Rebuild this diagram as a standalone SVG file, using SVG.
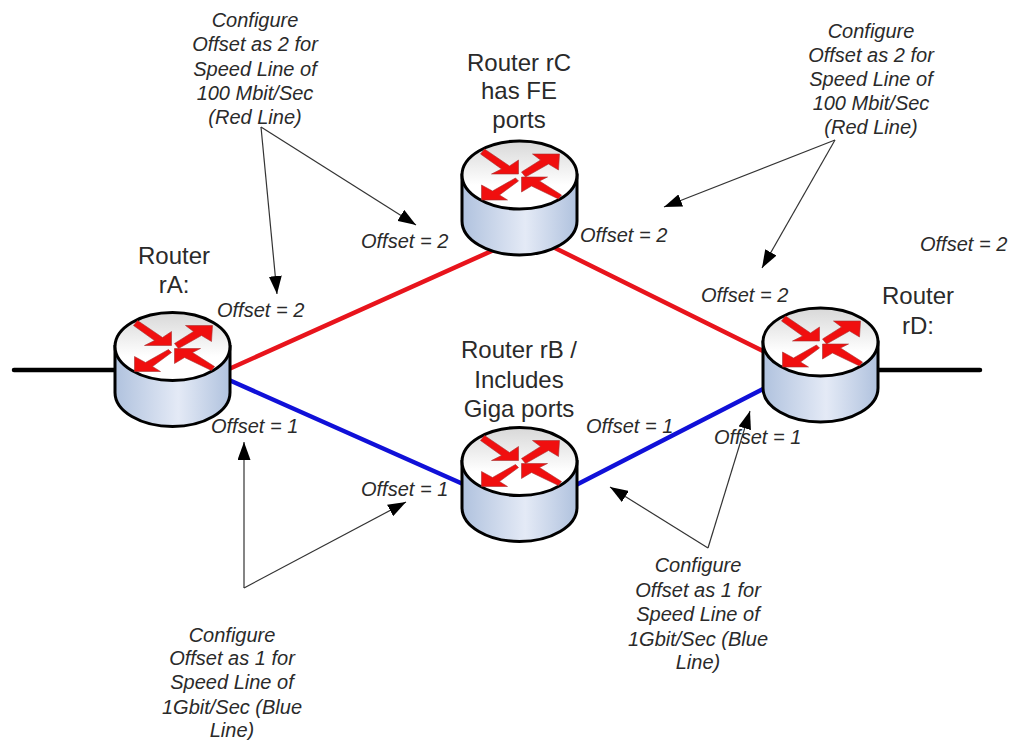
<svg xmlns="http://www.w3.org/2000/svg" width="1010" height="740" viewBox="0 0 1010 740">
<style>
text{font-family:"Liberation Sans",Arial,sans-serif;fill:#2a2a2a}
.i{font-style:italic;font-size:20px}
.c{text-anchor:middle}
.r{font-size:24px;text-anchor:middle}
.bk{stroke:#000;stroke-width:4.500;fill:none;stroke-linecap:round}
.red{stroke:#e8141c;stroke-width:4.500;fill:none}
.blu{stroke:#1010d8;stroke-width:4.500;fill:none}
.ar{stroke:#333;stroke-width:1.200;fill:none;marker-end:url(#h)}
.a{fill:#f00f0f;stroke:#a83030;stroke-width:.6}
</style>
<defs>
<marker id="h" viewBox="0 0 18 13" refX="18" refY="6.500" markerWidth="18" markerHeight="13" markerUnits="userSpaceOnUse" orient="auto"><path d="M0 0L18 6.500L0 13Z" fill="#000"/></marker>
<linearGradient id="s" x1="0" x2="1" y1="0" y2="0"><stop offset="0" stop-color="#b0c2de"/><stop offset=".55" stop-color="#e4eaf6"/><stop offset="1" stop-color="#b0c2de"/></linearGradient>
<linearGradient id="t" x1="0" x2="0" y1="0" y2="1"><stop offset="0" stop-color="#d8d8d8"/><stop offset=".65" stop-color="#ffffff"/><stop offset="1" stop-color="#ffffff"/></linearGradient>
<symbol id="router" overflow="visible">
<path d="M-57.500 0V46A57.500 34 0 0 0 57.500 46V0Z" fill="url(#s)" stroke="#000" stroke-width="3"/>
<ellipse cx="0" cy="0" rx="57.500" ry="34" fill="url(#t)" stroke="#000" stroke-width="3"/>
<path class="a" d="M-39-21L-35-26L-10-9L-1-15V-1H-28L-18-6Z"/>
<path class="a" d="M2-3L21-15L13-21H40L39-5L29-11L6 2Z"/>
<path class="a" d="M-4 3L-27 16L-38 10V25H-12L-20 20L-1 6Z"/>
<path class="a" d="M42 20L20 6L28 2H2V17L12 11L39 24Z"/>
</symbol>
</defs>
<g id="connectors">
<path class="bk" d="M14 370H116M878 370H980"/>
<path class="red" d="M229 369L496 249M555 248L765 352"/>
<path class="blu" d="M229 380L463 484M576 485L765 388"/>
<path class="ar" d="M261 127L277 294"/>
<path class="ar" d="M261 127L416 225"/>
<path class="ar" d="M835 140L664 207"/>
<path class="ar" d="M835 140L762 268"/>
<path class="ar" d="M244 588L244 442"/>
<path class="ar" d="M244 588L406 502"/>
<path class="ar" d="M708 548L610 487"/>
<path class="ar" d="M708 548L750 411"/>
</g>
<g id="rA"><use href="#router" x="172.500" y="346.500"/><text class="r" x="174" y="264">Router</text><text class="r" x="174" y="293">rA:</text></g>
<g id="rC"><use href="#router" x="519.500" y="175"/><text class="r" x="519" y="71">Router rC</text><text class="r" x="519" y="99">has FE</text><text class="r" x="519" y="128">ports</text></g>
<g id="rB"><use href="#router" x="519.500" y="461.500"/><text class="r" x="519" y="358">Router rB /</text><text class="r" x="519" y="388">Includes</text><text class="r" x="519" y="417">Giga ports</text></g>
<g id="rD"><use href="#router" x="820.500" y="342"/><text class="r" x="918" y="304">Router</text><text class="r" x="918" y="334">rD:</text></g>
<g id="offsets">
<text class="i" x="217" y="317">Offset = 2</text>
<text class="i" x="361" y="248">Offset = 2</text>
<text class="i" x="580" y="242">Offset = 2</text>
<text class="i" x="701" y="302">Offset = 2</text>
<text class="i" x="920" y="251">Offset = 2</text>
<text class="i" x="211" y="433">Offset = 1</text>
<text class="i" x="361" y="496">Offset = 1</text>
<text class="i" x="586" y="433">Offset = 1</text>
<text class="i" x="714" y="444">Offset = 1</text>
</g>
<g id="notes">
<text class="i c" x="255" y="27">Configure</text><text class="i c" x="255" y="51">Offset as 2 for</text><text class="i c" x="255" y="76">Speed Line of</text><text class="i c" x="255" y="100">100 Mbit/Sec</text><text class="i c" x="255" y="124">(Red Line)</text>
<text class="i c" x="871" y="38">Configure</text><text class="i c" x="871" y="62">Offset as 2 for</text><text class="i c" x="871" y="86">Speed Line of</text><text class="i c" x="871" y="110">100 Mbit/Sec</text><text class="i c" x="871" y="134">(Red Line)</text>
<text class="i c" x="232" y="642">Configure</text><text class="i c" x="232" y="665">Offset as 1 for</text><text class="i c" x="232" y="689">Speed Line of</text><text class="i c" x="232" y="714">1Gbit/Sec (Blue</text><text class="i c" x="232" y="737">Line)</text>
<text class="i c" x="698" y="572">Configure</text><text class="i c" x="698" y="597">Offset as 1 for</text><text class="i c" x="698" y="621">Speed Line of</text><text class="i c" x="698" y="646">1Gbit/Sec (Blue</text><text class="i c" x="698" y="669">Line)</text>
</g>
</svg>
